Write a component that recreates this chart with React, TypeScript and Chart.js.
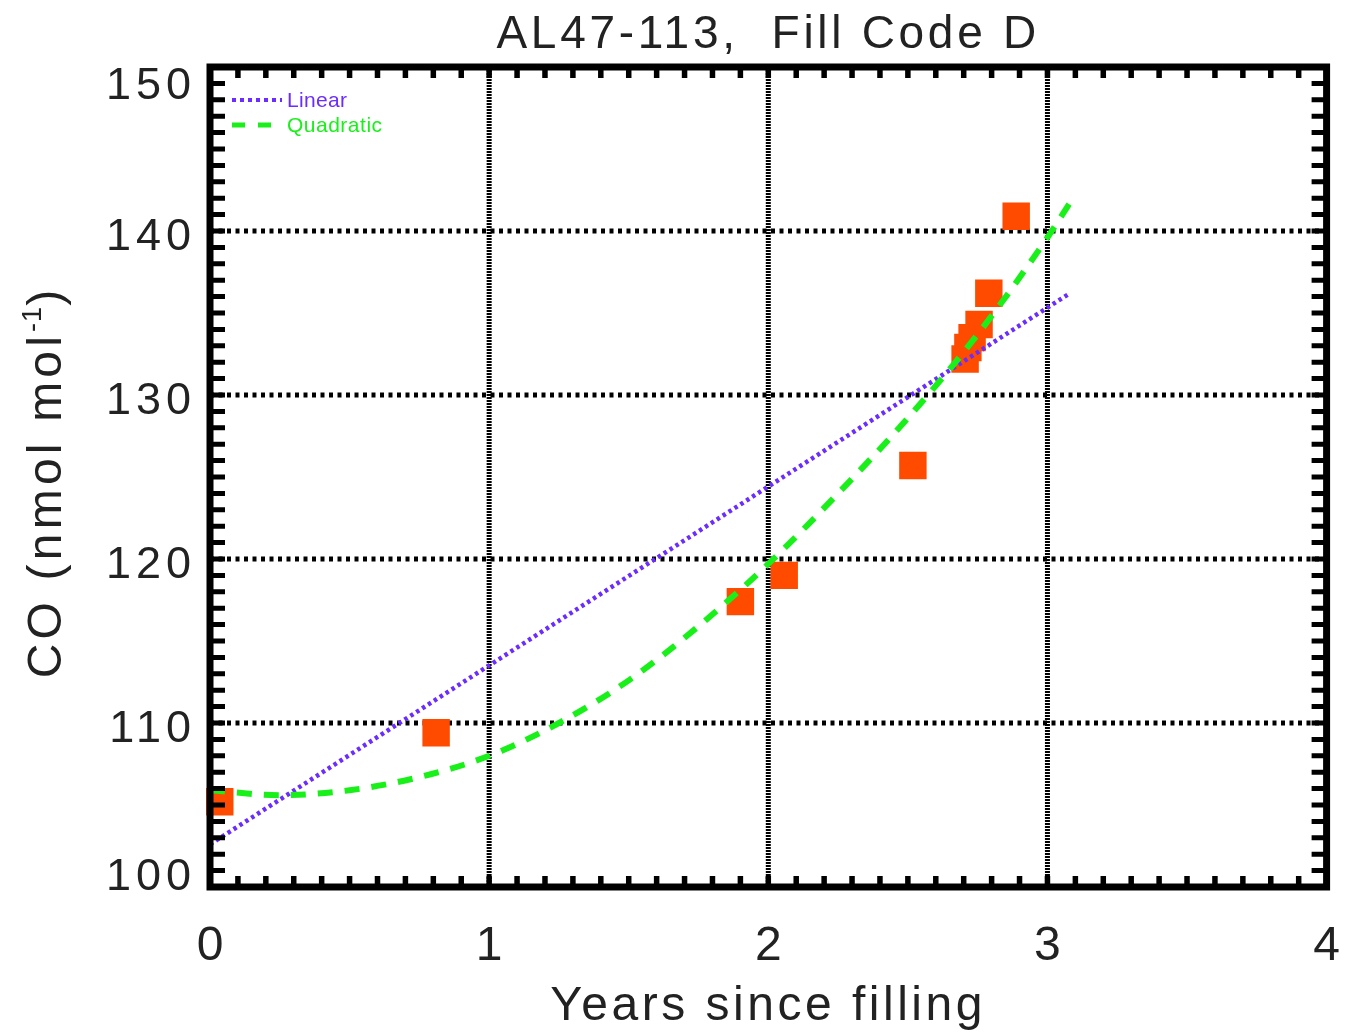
import React, { useEffect, useRef } from "react";
import { Chart, registerables } from "chart.js";

Chart.register(...registerables);

// ---------------- data ----------------
const titleText = "AL47-113,  Fill Code D";
const xAxisTitle = "Years since filling";
const yAxisTitleMain = "CO (nmol mol";
const yAxisTitleSup = "-1";
const yAxisTitleEnd = ")";
const legendLabels = ["Linear", "Quadratic"];

const xMin = 0;
const xMax = 4;
const yMin = 100;
const yMax = 150;
const xTickLabels = ["0", "1", "2", "3", "4"];
const yTickLabels = ["100", "110", "120", "130", "140", "150"];

// measured samples (years since filling, CO nmol/mol)
const fillYears = [0.035, 0.81, 1.9, 2.057, 2.518, 2.705, 2.715, 2.73, 2.755, 2.79, 2.888];
const coValues = [105.2, 109.4, 117.4, 119.0, 125.7, 132.2, 132.9, 133.5, 134.3, 136.2, 140.9];

// linear fit line
const linearYears = [0, 3.08];
const linearCO = [102.6, 136.2];

// quadratic fit curve
const quadYears = [0, 0.25, 0.5, 0.75, 1.0, 1.25, 1.5, 1.75, 2.0, 2.25, 2.5, 2.75, 3.0, 3.08];
const quadCO = [105.9, 105.6, 105.9, 106.7, 108.0, 110.0, 112.6, 115.9, 119.7, 124.0, 128.6, 133.7, 139.6, 141.7];

// ---------------- styles ----------------
const W = 1346;
const H = 1032;
const FONT = '"Liberation Sans", Arial, Helvetica, sans-serif';
const TEXT = "#222222";
const BLUE = "#6a2cff";
const GREEN = "#19f019";
const ORANGE = "#ff4b00";

function drawText(
  ctx: CanvasRenderingContext2D,
  s: string,
  x: number,
  y: number,
  size: number,
  spacing: number,
  align: "left" | "center" | "right",
  color: string
) {
  ctx.save();
  ctx.font = `normal ${size}px ${FONT}`;
  (ctx as any).letterSpacing = "0px";
  const w0 = ctx.measureText(s).width;
  const w = w0 + spacing * (s.length - 1);
  let sx = x;
  if (align === "center") sx = x - w / 2;
  else if (align === "right") sx = x - w;
  (ctx as any).letterSpacing = `${spacing}px`;
  ctx.textAlign = "left";
  ctx.textBaseline = "alphabetic";
  ctx.fillStyle = color;
  ctx.fillText(s, sx, y);
  ctx.restore();
  return w;
}

function measure(ctx: CanvasRenderingContext2D, s: string, size: number, spacing: number) {
  ctx.save();
  ctx.font = `normal ${size}px ${FONT}`;
  (ctx as any).letterSpacing = "0px";
  const w = ctx.measureText(s).width + spacing * s.length;
  ctx.restore();
  return w;
}

const decorPlugin = {
  id: "idlDecor",
  beforeDatasetsDraw(chart: any) {
    const { ctx, chartArea } = chart;
    const { left, right, top, bottom } = chartArea;
    const xs = chart.scales.x;
    const ys = chart.scales.y;
    ctx.save();
    ctx.strokeStyle = "#000";
    // vertical dotted grid
    ctx.lineWidth = 5;
    ctx.setLineDash([2, 1]);
    xs.ticks.forEach((t: any) => {
      if (t.value <= xMin || t.value >= xMax) return;
      const px = xs.getPixelForValue(t.value);
      ctx.beginPath();
      ctx.moveTo(px, top);
      ctx.lineTo(px, bottom);
      ctx.stroke();
    });
    // horizontal dotted grid
    ctx.lineWidth = 5;
    ctx.setLineDash([4, 4.5]);
    ys.ticks.forEach((t: any) => {
      if (t.value <= yMin || t.value >= yMax) return;
      const py = ys.getPixelForValue(t.value);
      ctx.beginPath();
      ctx.moveTo(left, py);
      ctx.lineTo(right, py);
      ctx.stroke();
    });
    ctx.restore();
  },
  afterDatasetsDraw(chart: any) {
    const { ctx, chartArea } = chart;
    const { left, right, top, bottom } = chartArea;
    const xs = chart.scales.x;
    const ys = chart.scales.y;
    ctx.save();
    ctx.strokeStyle = "#000";
    ctx.setLineDash([]);
    // minor ticks on x (every 0.1)
    ctx.lineWidth = 5.5;
    for (let i = 0; i <= (xMax - xMin) * 10; i++) {
      const px = xs.getPixelForValue(xMin + i / 10);
      ctx.beginPath();
      ctx.moveTo(px, bottom);
      ctx.lineTo(px, bottom - 11);
      ctx.moveTo(px, top);
      ctx.lineTo(px, top + 11);
      ctx.stroke();
    }
    // minor ticks on y (every 1)
    ctx.lineWidth = 5;
    for (let i = 0; i <= yMax - yMin; i++) {
      const py = ys.getPixelForValue(yMin + i);
      ctx.beginPath();
      ctx.moveTo(left, py);
      ctx.lineTo(left + 15, py);
      ctx.moveTo(right, py);
      ctx.lineTo(right - 15, py);
      ctx.stroke();
    }
    // frame
    ctx.lineWidth = 7;
    ctx.strokeRect(left, top, right - left, bottom - top);
    ctx.restore();
  },
  afterDraw(chart: any) {
    const { ctx, chartArea } = chart;
    const { left, right, top, bottom } = chartArea;
    const xs = chart.scales.x;
    const ys = chart.scales.y;
    const midX = (left + right) / 2;

    // y tick labels
    const ySize = 45;
    ys.ticks.forEach((t: any, i: number) => {
      const py = ys.getPixelForValue(t.value);
      const c = Math.min(Math.max(py + 3, top + 16), bottom - 13);
      drawText(ctx, yTickLabels[i] ?? String(t.value), 191, c + 0.358 * ySize, ySize, 5, "right", TEXT);
    });
    // x tick labels
    const xSize = 48;
    xs.ticks.forEach((t: any, i: number) => {
      const px = xs.getPixelForValue(t.value);
      drawText(ctx, xTickLabels[i] ?? String(t.value), px, 960, xSize, 4, "center", TEXT);
    });

    // title
    drawText(ctx, titleText, midX - 2, 48, 46, 3.7, "center", TEXT);
    // x title
    drawText(ctx, xAxisTitle, midX - 2, 1020, 48, 3.5, "center", TEXT);

    // y title (rotated, with superscript)
    const big = 48;
    const sup = 27;
    const sp = 4.2;
    const w1 = measure(ctx, yAxisTitleMain, big, sp);
    const w2 = measure(ctx, yAxisTitleSup, sup, 1);
    const w3 = measure(ctx, yAxisTitleEnd, big, sp);
    const total = w1 + w2 + w3;
    ctx.save();
    ctx.translate(61, 482);
    ctx.rotate(-Math.PI / 2);
    let cx = -total / 2;
    drawText(ctx, yAxisTitleMain, cx, 0, big, sp, "left", TEXT);
    cx += w1;
    drawText(ctx, yAxisTitleSup, cx, -20, sup, 1, "left", TEXT);
    cx += w2;
    drawText(ctx, yAxisTitleEnd, cx, 0, big, sp, "left", TEXT);
    ctx.restore();

    // legend (inside plot, top-left)
    ctx.save();
    ctx.lineCap = "butt";
    ctx.strokeStyle = BLUE;
    ctx.lineWidth = 4;
    ctx.setLineDash([4, 4]);
    ctx.beginPath();
    ctx.moveTo(232, 100);
    ctx.lineTo(282, 100);
    ctx.stroke();
    ctx.strokeStyle = GREEN;
    ctx.lineWidth = 5;
    ctx.setLineDash([13, 13]);
    ctx.beginPath();
    ctx.moveTo(232, 125);
    ctx.lineTo(272, 125);
    ctx.stroke();
    ctx.restore();
    drawText(ctx, legendLabels[0], 287, 107, 21, 0.3, "left", BLUE);
    drawText(ctx, legendLabels[1], 287, 132, 21, 0.5, "left", GREEN);
  },
};

export default function App() {
  const canvasRef = useRef<HTMLCanvasElement | null>(null);

  useEffect(() => {
    document.body.style.margin = "0";
    const canvas = canvasRef.current;
    if (!canvas) return;

    const scatterData = fillYears.map((x, i) => ({ x, y: coValues[i] }));
    const linearData = linearYears.map((x, i) => ({ x, y: linearCO[i] }));
    const quadData = quadYears.map((x, i) => ({ x, y: quadCO[i] }));

    const chart = new Chart(canvas, {
      type: "scatter",
      data: {
        datasets: [
          {
            label: legendLabels[1],
            data: quadData,
            showLine: true,
            borderColor: GREEN,
            borderWidth: 6,
            borderDash: [15, 12],
            pointRadius: 0,
            tension: 0.35,
            cubicInterpolationMode: "monotone",
            clip: 4,
          } as any,
          {
            label: legendLabels[0],
            data: linearData,
            showLine: true,
            borderColor: BLUE,
            borderWidth: 4.5,
            borderDash: [3.5, 3.5],
            pointRadius: 0,
            clip: 4,
          } as any,
          {
            label: "CO",
            data: scatterData,
            pointStyle: "rect",
            pointRadius: 19.4,
            pointBackgroundColor: ORANGE,
            pointBorderWidth: 0,
            borderWidth: 0,
            showLine: false,
            clip: 10,
          } as any,
        ],
      },
      options: {
        animation: false,
        responsive: false,
        maintainAspectRatio: false,
        devicePixelRatio: 1,
        layout: { padding: { left: 210, right: 14, top: 67, bottom: 145 } },
        scales: {
          x: {
            type: "linear",
            display: false,
            min: xMin,
            max: xMax,
            ticks: { stepSize: 1 },
          },
          y: {
            type: "linear",
            display: false,
            min: yMin,
            max: yMax,
            ticks: { stepSize: 10 },
          },
        },
        plugins: {
          legend: { display: false },
          title: { display: false },
          tooltip: { enabled: false },
        },
        events: [],
      },
      plugins: [decorPlugin],
    });

    return () => {
      chart.destroy();
    };
  }, []);

  return (
    <div style={{ position: "fixed", left: 0, top: 0, width: W, height: H, background: "#fff" }}>
      <canvas ref={canvasRef} width={W} height={H} style={{ display: "block", width: W, height: H }} />
    </div>
  );
}
